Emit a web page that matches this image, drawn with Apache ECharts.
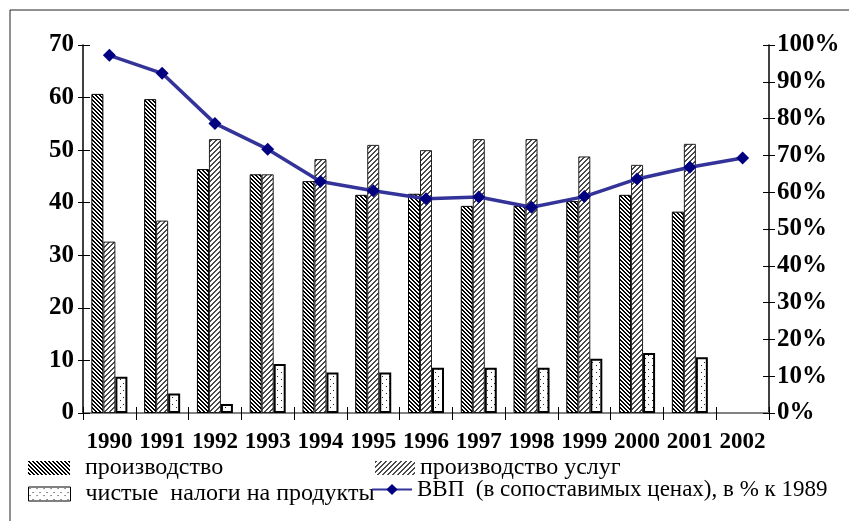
<!DOCTYPE html>
<html>
<head>
<meta charset="utf-8">
<script src="https://cdn.jsdelivr.net/npm/echarts@6/dist/echarts.min.js"></script>
<style>
  html, body { margin: 0; padding: 0; background: #fff; }
  #chart { width: 849px; height: 521px; }
</style>
</head>
<body>
<div id="chart"></div>
<script>
// годы
const years = ['1990', '1991', '1992', '1993', '1994', '1995', '1996', '1997', '1998', '1999', '2000', '2001', '2002']
// структура ВВП, %
const production = [60.7, 59.7, 46.4, 45.4, 44.1, 41.5, 41.7, 39.4, 39.4, 40.3, 41.5, 38.3, null]
const services = [32.6, 36.6, 52.1, 45.4, 48.3, 51.0, 50.0, 52.1, 52.1, 48.8, 47.2, 51.2, null]
const taxes = [6.9, 3.7, 1.7, 9.3, 7.7, 7.7, 8.6, 8.6, 8.6, 10.3, 11.4, 10.6, null]
// ВВП в % к 1989
const gdp = [97.2, 92.3, 78.7, 71.7, 62.9, 60.4, 58.2, 58.7, 55.9, 58.8, 63.6, 66.8, 69.3]

const names = ['производство', 'производство услуг', 'чистые  налоги на продукты', 'ВВП  (в сопоставимых ценах), в % к 1989']
const serif = '"Liberation Serif", "DejaVu Serif", serif'

// штриховки попиксельно, чтобы полосы были чёткими
function makeTile(size, isInk, ink) {
  const c = document.createElement('canvas')
  c.width = size
  c.height = size
  const ctx = c.getContext('2d')
  ctx.fillStyle = '#fff'
  ctx.fillRect(0, 0, size, size)
  ctx.fillStyle = ink
  for (let y = 0; y < size; y++) {
    for (let x = 0; x < size; x++) {
      if (isInk(x, y)) ctx.fillRect(x, y, 1, 1)
    }
  }
  return c
}

const hatchDown = makeTile(8, (x, y) => ((x - y + 16) % 4) < 2, '#000')
const hatchUp = makeTile(10, (x, y) => ((x + y) % 5) < 2, '#4a4a4a')
const dots = makeTile(7, (x, y) => (x === 1 && y === 1) || (x === 4 && y === 5), '#222')

const chart = echarts.init(document.getElementById('chart'))

const legendBase = {
  orient: 'horizontal',
  icon: 'rect',
  itemWidth: 42,
  itemHeight: 14,
  selectedMode: false,
  textStyle: { fontFamily: serif, fontSize: 24, color: '#000' }
}

const option = {
  animation: false,
  backgroundColor: '#fff',
  graphic: [{
    type: 'rect',
    shape: { x: 10, y: 10, width: 860, height: 540 },
    style: { fill: 'none', stroke: '#222', lineWidth: 1 }
  }],
  legend: [
    Object.assign({}, legendBase, {
      data: [names[0]], left: 23, top: 451,
      itemStyle: { borderWidth: 0 },
      textStyle: Object.assign({}, legendBase.textStyle, { padding: [0, 0, 0, 10] })
    }),
    Object.assign({}, legendBase, {
      data: [names[1]], left: 370, top: 451, itemWidth: 40,
      itemStyle: { borderWidth: 0 }
    }),
    Object.assign({}, legendBase, {
      data: [names[2]], left: 23, top: 477,
      itemStyle: { borderWidth: 1 },
      textStyle: Object.assign({}, legendBase.textStyle, { padding: [0, 0, 0, 10] })
    }),
    Object.assign({}, legendBase, {
      data: [names[3]], left: 366, top: 473, itemWidth: 40, icon: null,
      textStyle: Object.assign({}, legendBase.textStyle, { fontSize: 23 })
    })
  ],
  grid: { left: 83, right: 80, top: 45, bottom: 108 },
  xAxis: [{
    type: 'category',
    data: years,
    axisLine: { lineStyle: { color: '#000', width: 1.5 } },
    axisTick: { show: true, length: 7, lineStyle: { color: '#000' } },
    axisLabel: {
      fontFamily: serif, fontWeight: 'bold', fontSize: 23, color: '#000',
      margin: 18, interval: 0
    }
  }, {
    type: 'category',
    data: years,
    position: 'top',
    axisLine: { lineStyle: { color: '#999', width: 1.5 } },
    axisTick: { show: false },
    axisLabel: { show: false }
  }, {
    type: 'category',
    data: years,
    position: 'bottom',
    axisLine: { show: false },
    axisTick: { show: true, inside: true, length: 6, lineStyle: { color: '#000' } },
    axisLabel: { show: false }
  }],
  yAxis: [{
    type: 'value',
    position: 'left',
    min: 0, max: 70, interval: 10,
    axisLine: { show: true, lineStyle: { color: '#000', width: 1.5 } },
    axisTick: { show: true, length: 5, lineStyle: { color: '#000' } },
    splitLine: { show: false },
    axisLabel: { fontFamily: serif, fontWeight: 'bold', fontSize: 25, color: '#000', margin: 9 }
  }, {
    type: 'value',
    position: 'right',
    min: 0, max: 100, interval: 10,
    axisLine: { show: true, lineStyle: { color: '#000', width: 1.5 } },
    axisTick: { show: true, length: 6, lineStyle: { color: '#000' } },
    splitLine: { show: false },
    axisLabel: { fontFamily: serif, fontWeight: 'bold', fontSize: 25, color: '#000', margin: 8, formatter: '{value}%' }
  }, {
    type: 'value',
    position: 'left',
    min: 0, max: 70, interval: 10,
    axisLine: { show: false },
    axisTick: { show: true, inside: true, length: 7, lineStyle: { color: '#000' } },
    splitLine: { show: false },
    axisLabel: { show: false }
  }, {
    type: 'value',
    position: 'right',
    min: 0, max: 100, interval: 10,
    axisLine: { show: false },
    axisTick: { show: true, inside: true, length: 6, lineStyle: { color: '#000' } },
    splitLine: { show: false },
    axisLabel: { show: false }
  }],
  series: [{
    name: names[0],
    type: 'bar',
    data: production,
    barWidth: 12,
    barGap: '0%',
    itemStyle: { color: { image: hatchDown, repeat: 'repeat' }, borderColor: '#000', borderWidth: 1 }
  }, {
    name: names[1],
    type: 'bar',
    data: services,
    barWidth: 12,
    barGap: '0%',
    itemStyle: { color: { image: hatchUp, repeat: 'repeat' }, borderColor: '#222', borderWidth: 1 }
  }, {
    name: names[2],
    type: 'bar',
    data: taxes,
    barWidth: 12,
    barGap: '0%',
    itemStyle: { color: { image: dots, repeat: 'repeat' }, borderColor: '#000', borderWidth: 2 }
  }, {
    name: names[3],
    type: 'line',
    yAxisIndex: 1,
    data: gdp,
    symbol: 'diamond',
    symbolSize: 13,
    lineStyle: { color: '#333399', width: 3.5 },
    itemStyle: { color: '#000080' },
    z: 5
  }]
}

chart.setOption(option)
</script>
</body>
</html>
